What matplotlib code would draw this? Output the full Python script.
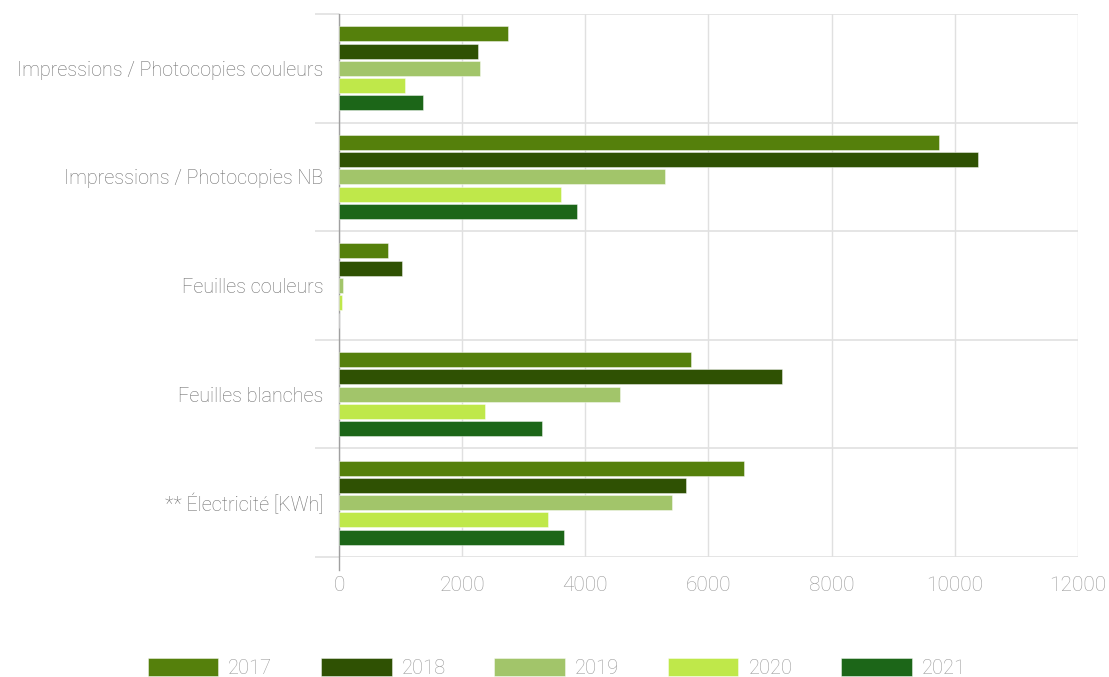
import matplotlib
matplotlib.use("Agg")
import matplotlib.pyplot as plt
import numpy as np

categories = ["Impressions / Photocopies couleurs", "Impressions / Photocopies NB",
              "Feuilles couleurs", "Feuilles blanches", "** Électricité [KWh]"]
years = ["2017", "2018", "2019", "2020", "2021"]
v2017 = [2740, 9750, 790, 5720, 6580]
v2018 = [2265, 10370, 1020, 7195, 5635]
v2019 = [2290, 5290, 70, 4570, 5410]
v2020 = [1070, 3600, 55, 2370, 3400]
v2021 = [1370, 3870, 0, 3300, 3650]
series = [v2017, v2018, v2019, v2020, v2021]
colors = ["#55800c", "#2f5103", "#a2c56a", "#bfe84a", "#1c6618"]
xticks = [0, 2000, 4000, 6000, 8000, 10000, 12000]

plt.rcParams['font.family'] = ['Roboto', 'DejaVu Sans']
fig = plt.figure(figsize=(11.09, 6.77), dpi=100)
ax = fig.add_axes([0.3057, 0.1773, 0.9720 - 0.3057, 0.9793 - 0.1773])

y = np.arange(len(categories))
pitch = 0.159
h = 0.138
for i, (vals, c, yr) in enumerate(zip(series, colors, years)):
    ax.barh(y + (i - 2) * pitch, vals, height=h, color=c, label=yr,
            edgecolor=(1, 1, 1, 0.5), linewidth=0.6, zorder=3)

ax.set_xlim(0, 12000)
ax.set_ylim(4.5, -0.5)
ax.set_xticks(xticks)
ax.set_xticklabels([str(t) for t in xticks])
ax.set_yticks(y)
ax.set_yticklabels(categories)
ax.set_yticks(np.arange(-0.5, 5.0, 1.0), minor=True)

for s in ["top", "right", "bottom"]:
    ax.spines[s].set_visible(False)
ax.spines["left"].set_color("#a0a0a0")
ax.spines["left"].set_linewidth(1.0)
ax.spines["left"].set_bounds(4.62, -0.5)

ax.grid(axis="x", color="#e0e0e0", linewidth=1.0, zorder=0)
ax.grid(axis="y", which="minor", color="#e0e0e0", linewidth=1.2, zorder=0)
ax.tick_params(axis="y", which="major", length=0, pad=11, labelsize=14.2, labelcolor="#6e6e6e")
ax.tick_params(axis="y", which="minor", length=17, color="#e0e0e0", width=1.2)
ax.tick_params(axis="x", length=0, pad=14, labelsize=15, labelcolor="#999999")
for lab in ax.get_yticklabels() + ax.get_xticklabels():
    lab.set_fontweight("light")

leg = fig.legend(loc="upper center", bbox_to_anchor=(0.502, 0.043), ncol=5, frameon=False,
                 handlelength=3.5, handleheight=1.0, handletextpad=0.5, columnspacing=2.42,
                 borderpad=0, fontsize=14.5)
for t in leg.get_texts():
    t.set_color("#999999")
    t.set_fontweight("light")

fig.savefig("out.png", dpi=100)
